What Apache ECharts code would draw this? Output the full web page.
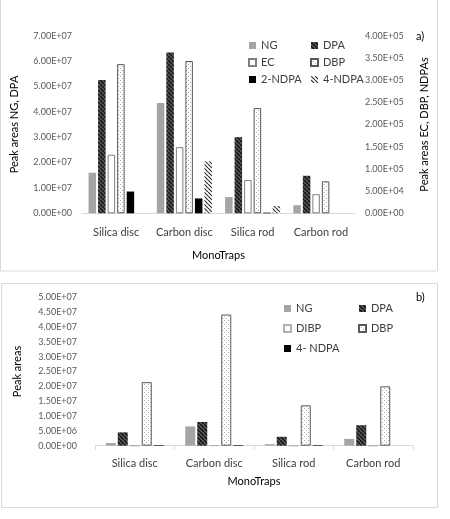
<!DOCTYPE html>
<html>
<head>
<meta charset="utf-8">
<script src="https://cdn.jsdelivr.net/npm/echarts@6/dist/echarts.min.js"></script>
<style>
  html, body { margin: 0; padding: 0; background: #fff; }
  #chart { width: 450px; height: 519px; }
</style>
</head>
<body>
<div id="chart"></div>
<script>
// categories
const categories = ['Silica disc', 'Carbon disc', 'Silica rod', 'Carbon rod']

// chart a) - NG, DPA on left axis, the rest on right axis
const ngA = [1.6e7, 4.35e7, 6.4e6, 3.2e6]
const dpaA = [5.25e7, 6.34e7, 3.0e7, 1.48e7]
const ecA = [1.32e5, 1.49e5, 7.5e4, 4.3e4]
const dbpA = [3.36e5, 3.43e5, 2.37e5, 7.2e4]
const ndpa2A = [4.9e4, 3.35e4, 1.5e3, 0]
const ndpa4A = [0, 1.17e5, 1.65e4, 0]

// chart b)
const ngB = [9e5, 6.5e6, 5e5, 2.3e6]
const dpaB = [4.5e6, 8.0e6, 3.0e6, 6.9e6]
const dibpB = [0, 1e5, 0, 0]
const dbpB = [2.14e7, 4.42e7, 1.36e7, 2.0e7]
const ndpa4B = [2e5, 2e5, 2e5, 0]

const FONT = 'Lato'

// small canvas fills that stand in for the Excel pattern fills
function hatch(bg, fg, lw, size) {
  const c = document.createElement('canvas')
  c.width = c.height = size
  const g = c.getContext('2d')
  g.fillStyle = bg
  g.fillRect(0, 0, size, size)
  g.strokeStyle = fg
  g.lineWidth = lw
  g.beginPath()
  for (const k of [-size, 0, size]) {
    g.moveTo(k, 0)
    g.lineTo(k + size, size)
  }
  g.stroke()
  return { image: c, repeat: 'repeat' }
}

function dots() {
  const c = document.createElement('canvas')
  c.width = c.height = 4
  const g = c.getContext('2d')
  g.fillStyle = '#fff'
  g.fillRect(0, 0, 4, 4)
  g.fillStyle = '#a8a8a8'
  g.fillRect(0, 0, 1, 1)
  g.fillRect(2, 2, 1, 1)
  return { image: c, repeat: 'repeat' }
}

const styles = {
  NG: { color: '#a5a5a5' },
  DPA: { color: hatch('#5a5a5a', '#111', 1.4, 4) },
  EC: { color: '#fff', borderColor: '#7f7f7f', borderWidth: 1 },
  DIBP: { color: '#fff', borderColor: '#b0b0b0', borderWidth: 1 },
  DBP: { color: dots(), borderColor: '#595959', borderWidth: 1 },
  NDPA2: { color: '#000' },
  NDPA4: { color: hatch('#fff', '#333', 1.2, 4) },
}

function sci(v) {
  const [m, e] = v.toExponential(2).split('e')
  return m + 'E' + e[0] + e.slice(1).padStart(2, '0')
}

const tickLabel = { color: '#595959', fontSize: 9, fontFamily: FONT, formatter: sci }
const axisTitle = { color: '#000', fontSize: 11, fontFamily: FONT }
const legendText = { color: '#404040', fontSize: 11, fontFamily: FONT }

function bar(name, data, style, xAxisIndex, yAxisIndex, width, gap) {
  return {
    name,
    type: 'bar',
    data,
    xAxisIndex,
    yAxisIndex,
    barWidth: width,
    barGap: gap,
    itemStyle: style,
    emphasis: { disabled: true },
  }
}

const chart = echarts.init(document.getElementById('chart'), null, { width: 450, height: 519 })

const option = {
  backgroundColor: '#fff',
  animation: false,
  graphic: [
    { type: 'rect', shape: { x: 0.5, y: -5, width: 437, height: 276 }, style: { fill: 'none', stroke: '#d9d9d9', lineWidth: 1 } },
    { type: 'rect', shape: { x: 1.5, y: 283.5, width: 436, height: 224 }, style: { fill: 'none', stroke: '#d9d9d9', lineWidth: 1 } },
    { type: 'text', left: 416, top: 31, style: { text: 'a)', fontSize: 11, fontFamily: FONT, fill: '#000' } },
    { type: 'text', left: 416, top: 292, style: { text: 'b)', fontSize: 11, fontFamily: FONT, fill: '#000' } },
  ],
  legend: [
    { data: ['NG', 'EC', '2-NDPA'], orient: 'vertical', left: 243, top: 35, itemGap: 6, itemWidth: 7, itemHeight: 7, icon: 'rect', textStyle: legendText, selectedMode: false },
    { data: ['DPA', 'DBP', '4-NDPA'], orient: 'vertical', left: 305, top: 35, itemGap: 6, itemWidth: 7, itemHeight: 7, icon: 'rect', textStyle: legendText, selectedMode: false },
    { data: ['NG', 'DIBP', '4- NDPA'], orient: 'vertical', left: 278, top: 298, itemGap: 9, itemWidth: 7, itemHeight: 7, icon: 'rect', textStyle: legendText, selectedMode: false },
    { data: ['DPA', 'DBP'], orient: 'vertical', left: 353, top: 298, itemGap: 9, itemWidth: 7, itemHeight: 7, icon: 'rect', textStyle: legendText, selectedMode: false },
  ],
  grid: [
    { left: 82, right: 95, top: 35.7, bottom: 305.7 },
    { left: 95, right: 37, top: 297.3, bottom: 73.3 },
  ],
  xAxis: [
    {
      gridIndex: 0, type: 'category', data: categories,
      name: 'MonoTraps', nameLocation: 'middle', nameGap: 37, nameTextStyle: axisTitle,
      axisLine: { lineStyle: { color: '#d9d9d9' } },
      axisTick: { show: false },
      axisLabel: { color: '#404040', fontSize: 11, fontFamily: FONT, margin: 14, interval: 0 },
    },
    {
      gridIndex: 1, type: 'category', data: categories,
      name: 'MonoTraps', nameLocation: 'middle', nameGap: 30, nameTextStyle: axisTitle,
      axisLine: { lineStyle: { color: '#d9d9d9' } },
      axisTick: { show: true, length: 4, lineStyle: { color: '#d9d9d9' } },
      axisLabel: { color: '#404040', fontSize: 11, fontFamily: FONT, margin: 12, interval: 0 },
    },
  ],
  yAxis: [
    {
      gridIndex: 0, type: 'value', min: 0, max: 7e7, interval: 1e7,
      name: 'Peak areas NG, DPA', nameLocation: 'middle', nameRotate: 90, nameGap: 62, nameTextStyle: axisTitle,
      axisLine: { show: false }, axisTick: { show: false }, splitLine: { show: false },
      axisLabel: { ...tickLabel, margin: 10 },
    },
    {
      gridIndex: 0, type: 'value', position: 'right', min: 0, max: 4e5, interval: 5e4,
      name: 'Peak areas EC, DBP, NDPAs', nameLocation: 'middle', nameRotate: 90, nameGap: 64, nameTextStyle: axisTitle,
      axisLine: { show: false }, axisTick: { show: false }, splitLine: { show: false },
      axisLabel: { ...tickLabel, margin: 10 },
    },
    {
      gridIndex: 1, type: 'value', min: 0, max: 5e7, interval: 5e6,
      name: 'Peak areas', nameLocation: 'middle', nameRotate: 90, nameGap: 72, nameTextStyle: axisTitle,
      axisLine: { show: false }, axisTick: { show: false }, splitLine: { show: false },
      axisLabel: { ...tickLabel, margin: 18 },
    },
  ],
  series: [
    bar('NG', ngA, styles.NG, 0, 0, 7.5, '27%'),
    bar('DPA', dpaA, styles.DPA, 0, 0, 7.5, '27%'),
    bar('EC', ecA, styles.EC, 0, 1, 7.5, '27%'),
    bar('DBP', dbpA, styles.DBP, 0, 1, 7.5, '27%'),
    bar('2-NDPA', ndpa2A, styles.NDPA2, 0, 1, 7.5, '27%'),
    bar('4-NDPA', ndpa4A, styles.NDPA4, 0, 1, 7.5, '27%'),

    bar('NG', ngB, styles.NG, 1, 2, 10, '20%'),
    bar('DPA', dpaB, styles.DPA, 1, 2, 10, '20%'),
    bar('DIBP', dibpB, styles.DIBP, 1, 2, 10, '20%'),
    bar('DBP', dbpB, styles.DBP, 1, 2, 10, '20%'),
    bar('4- NDPA', ndpa4B, styles.NDPA2, 1, 2, 10, '20%'),
  ],
}

chart.setOption(option)
</script>
</body>
</html>
